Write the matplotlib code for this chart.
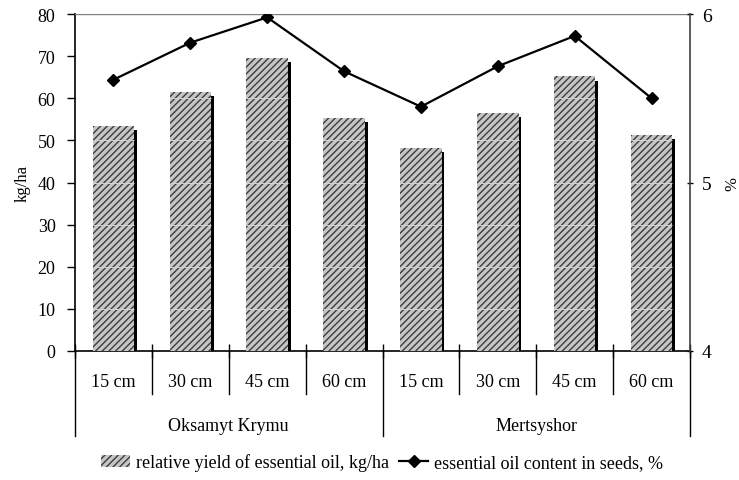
import numpy as np
import matplotlib.pyplot as plt
from matplotlib.lines import Line2D
from matplotlib.patches import Patch
import matplotlib.transforms as mtransforms

plt.rcParams['font.family'] = ['Liberation Serif', 'DejaVu Serif']
plt.rcParams['hatch.linewidth'] = 1.0
plt.rcParams['hatch.color'] = '#3c3c3c'

# data
spacing = ['15 cm', '30 cm', '45 cm', '60 cm', '15 cm', '30 cm', '45 cm', '60 cm']
varieties = ['Oksamyt Krymu', 'Mertsyshor']
oil_yield = [53.5, 61.6, 69.5, 55.3, 48.3, 56.6, 65.2, 51.3]       # kg/ha
oil_content = [5.61, 5.83, 5.98, 5.66, 5.45, 5.69, 5.87, 5.50]     # %

x = np.arange(len(spacing))
w = 0.54
bar_face = '#c6c6c6'

fig = plt.figure(figsize=(7.39, 4.81), dpi=100)
ax = fig.add_axes([0.1015, 0.2682, 0.8322, 0.7006])
ax2 = ax.twinx()

# bar shadows then bars
ax.bar(x + 0.035, np.array(oil_yield) - 1.0, width=w, color='black', zorder=2)
ax.bar(x, oil_yield, width=w, facecolor=bar_face, edgecolor='#3c3c3c',
       hatch='/////', linewidth=0.0, zorder=3)

# faint grid lines only visible across the bars
for xi, h in zip(x, oil_yield):
    lv = [v for v in range(10, 80, 10) if v < h]
    ax.hlines(lv, xi - w / 2, xi + w / 2, color='#d4d4d4', lw=0.7, zorder=4)
ax.axhline(80, color='#808080', lw=1.0, zorder=4)

ax2.plot(x, oil_content, color='black', lw=1.6, marker='D', ms=6.5, zorder=5)

ax.set_xlim(-0.5, len(spacing) - 0.5)
ax.set_ylim(0, 80)
ax.set_yticks(range(0, 81, 10))
ax2.set_ylim(4, 6)
ax2.set_yticks([4, 5, 6])

ax.set_ylabel('kg/ha', fontsize=12, labelpad=5)
ax2.set_ylabel('%', fontsize=12, labelpad=9)

for a in (ax, ax2):
    a.spines['top'].set_visible(False)
ax.spines['right'].set_visible(False)
ax.spines['left'].set_linewidth(1.2)
ax.spines['bottom'].set_linewidth(1.2)
ax2.spines['left'].set_visible(False)
ax2.spines['bottom'].set_visible(False)
ax2.spines['right'].set_linewidth(1.2)
ax2.spines['right'].set_color('#404040')

ax.tick_params(axis='y', labelsize=13, length=6, width=1.0, pad=8)
ax2.tick_params(axis='y', labelsize=14, length=5, width=1.0, direction='inout', pad=6)
ax.set_zorder(ax2.get_zorder() - 1)
ax.patch.set_visible(True)
ax2.patch.set_visible(False)

# category labels below axis
ax.set_xticks(np.arange(len(spacing) + 1) - 0.5)
ax.set_xticklabels([])
ax.tick_params(axis='x', direction='inout', length=10, width=1.0)
trans = mtransforms.blended_transform_factory(ax.transData, ax.transAxes)
ax_h = 337.0
for i, lab in enumerate(spacing):
    ax.text(i, -31 / ax_h, lab, transform=trans, ha='center', va='center', fontsize=13)
for b in np.arange(len(spacing) + 1) - 0.5:
    long_line = b in (-0.5, 3.5, 7.5)
    y1 = -85 / ax_h if long_line else -43 / ax_h
    ax.plot([b, b], [0, y1], transform=trans, color='black', lw=1.0, clip_on=False)
n = len(spacing) // len(varieties)
for j, var in enumerate(varieties):
    ax.text(j * n + (n - 1) / 2, -75 / ax_h, var, transform=trans, ha='center',
            va='center', fontsize=13)

handles = [Patch(facecolor=bar_face, edgecolor='#3c3c3c', hatch='/////', lw=0),
           Line2D([], [], color='black', lw=1.6, marker='D', ms=6)]
fig.legend(handles, ['relative yield of essential oil, kg/ha',
                     'essential oil content in seeds, %'],
           loc='center', bbox_to_anchor=(0.517, 0.037), ncol=2, frameon=False,
           fontsize=13, handlelength=1.6, handletextpad=0.3, columnspacing=0.6)

fig.savefig('out.png', dpi=100)
